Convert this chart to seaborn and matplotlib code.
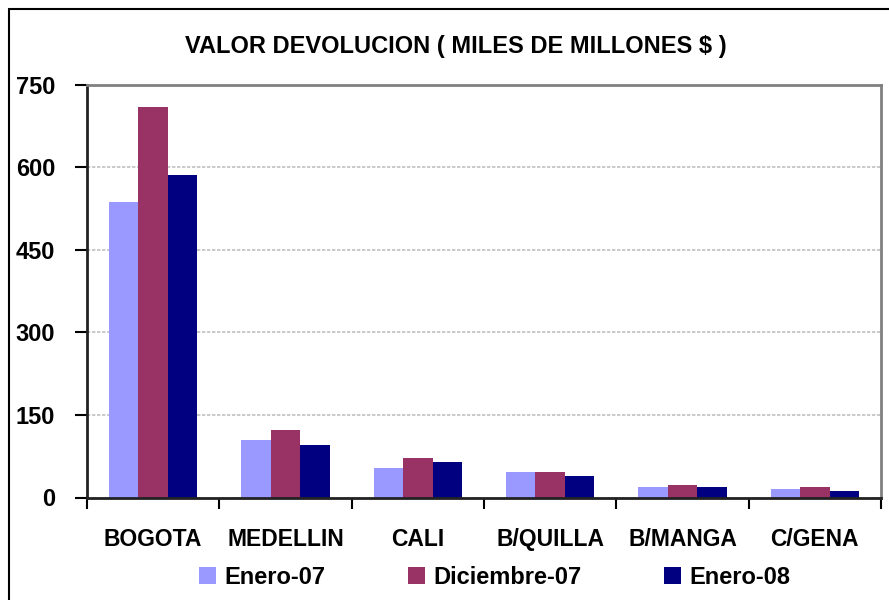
import pandas as pd
import matplotlib.pyplot as plt
from matplotlib.lines import Line2D
import seaborn as sns

# Chart data
ciudades = ["BOGOTA", "MEDELLIN", "CALI", "B/QUILLA", "B/MANGA", "C/GENA"]
enero_07 = [537, 104, 54, 47, 19.5, 16]
diciembre_07 = [710, 122, 72, 47, 23, 19.5]
enero_08 = [586, 95, 65, 39.5, 19.5, 12]
series = ["Enero-07", "Diciembre-07", "Enero-08"]
colores = ["#9999FF", "#993366", "#000080"]
y_ticks = [0, 150, 300, 450, 600, 750]

# Long format for seaborn
df = pd.DataFrame({
    "Ciudad": ciudades * 3,
    "Serie": [series[0]] * 6 + [series[1]] * 6 + [series[2]] * 6,
    "Valor": enero_07 + diciembre_07 + enero_08,
})

sns.set_style("white")
plt.rcParams["font.family"] = ["Liberation Sans", "DejaVu Sans"]
plt.rcParams["font.weight"] = "bold"
plt.rcParams["text.color"] = "black"
plt.rcParams["xtick.color"] = "black"
plt.rcParams["ytick.color"] = "black"
plt.rcParams["xtick.labelcolor"] = "black"
plt.rcParams["ytick.labelcolor"] = "black"

fig = plt.figure(figsize=(8.89, 6), dpi=100)
ax = fig.add_axes([87 / 889, 1 - 497.5 / 600, (881 - 87) / 889, (497.5 - 84.5) / 600])

sns.barplot(data=df, x="Ciudad", y="Valor", hue="Serie", order=ciudades,
            hue_order=series, palette=colores, width=0.67, saturation=1,
            linewidth=0, ax=ax)

# Axes styling
ax.set_ylim(0, 750)
ax.set_xlim(-0.5, 5.5)
ax.set_yticks(y_ticks)
ax.set_yticklabels([str(v) for v in y_ticks], fontsize=17, fontweight="bold", color="black")
ax.tick_params(axis="y", direction="out", length=9, width=1.5, pad=14, left=True, color="black")
ax.set_xticks(range(len(ciudades)))
ax.set_xticklabels(ciudades, fontsize=16.5, fontweight="bold", color="black")
ax.tick_params(axis="x", which="major", length=0, pad=22)
ax.set_xticks([i - 0.5 for i in range(len(ciudades) + 1)], minor=True)
ax.tick_params(axis="x", which="minor", direction="out", length=8, width=1.5, bottom=True, color="black")
ax.set_xlabel("")
ax.set_ylabel("")

ax.yaxis.grid(True, color="#c0c0c0", linestyle=(0, (2, 1)), linewidth=1.2)
ax.set_axisbelow(True)
for side in ["left", "bottom"]:
    ax.spines[side].set_color("#222222")
    ax.spines[side].set_linewidth(2)
for side in ["top", "right"]:
    ax.spines[side].set_visible(True)
    ax.spines[side].set_color("#808080")
    ax.spines[side].set_linewidth(2)

# Title
fig.text(456 / 889, 1 - 47 / 600, "VALOR DEVOLUCION ( MILES DE MILLONES $ )",
         ha="center", va="center", fontsize=17, fontweight="bold", color="black")

# Legend at the bottom
sns.move_legend(ax, "center", bbox_to_anchor=(495 / 889, 1 - 577 / 600),
                bbox_transform=fig.transFigure, ncol=3, frameon=False, title=None,
                fontsize=17, handlelength=0.72, handleheight=0.72,
                handletextpad=0.35, columnspacing=3.5)
for t in ax.get_legend().get_texts():
    t.set_fontweight("bold")
    t.set_color("black")

# Outer chart border (left and top edges visible)
fig.add_artist(Line2D([9 / 889, 9 / 889], [0, 1 - 9 / 600], transform=fig.transFigure,
                      color="black", linewidth=1.5))
fig.add_artist(Line2D([9 / 889, 1], [1 - 9 / 600, 1 - 9 / 600], transform=fig.transFigure,
                      color="black", linewidth=1.5))

plt.savefig("out.png", dpi=100)
plt.close()
